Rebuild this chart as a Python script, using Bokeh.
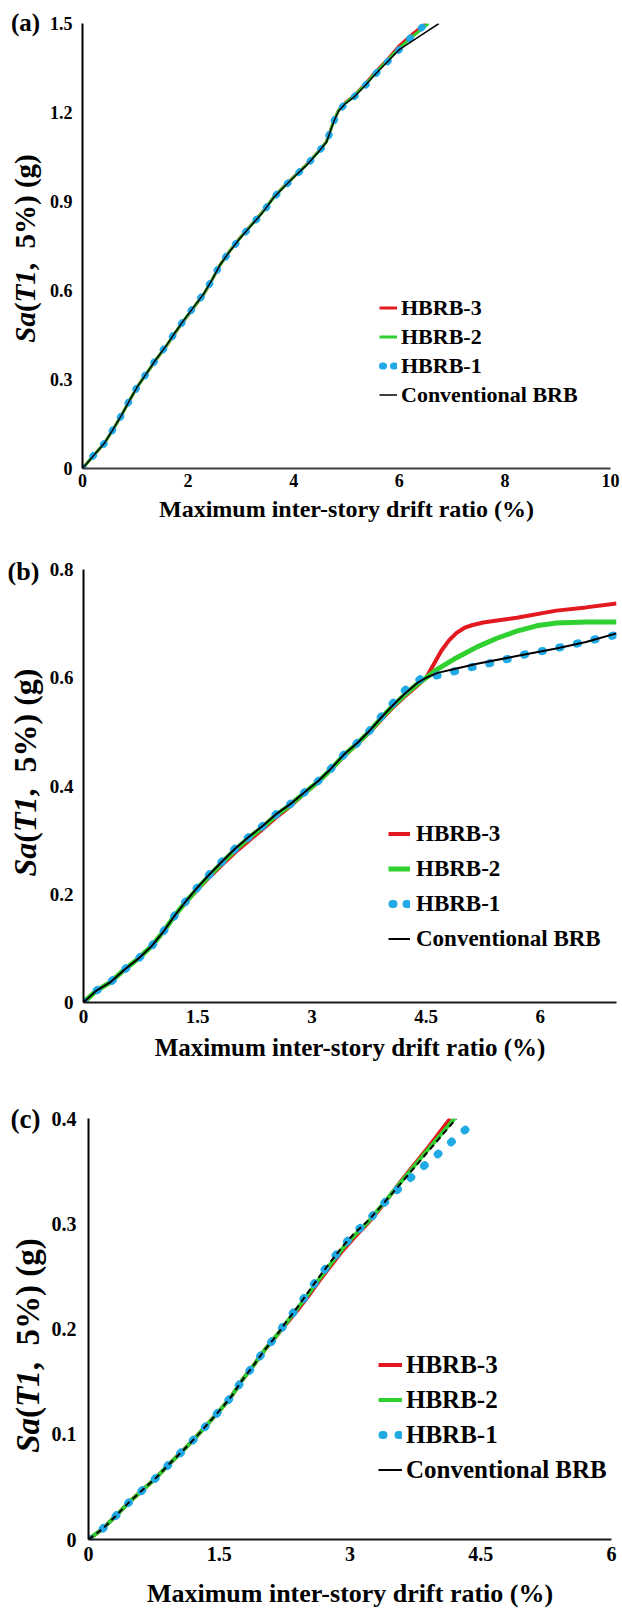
import math
from bokeh.plotting import figure
from bokeh.layouts import column, row
from bokeh.models import Range1d, FixedTicker, Label, Legend, LegendItem, NumeralTickFormatter
from bokeh.embed import file_html
from bokeh.resources import INLINE

FONT = "Liberation Serif"
RED = "#e3191f"
GREEN = "#2fd02f"
BLUE = "#21a9e6"
BLACK = "#000000"

SERIES = ["HBRB-3", "HBRB-2", "HBRB-1", "Conventional BRB"]
X_TITLE = "Maximum inter-story drift ratio (%)"
PANEL_TAGS = ["(a)", "(b)", "(c)"]

# ---------------- Panel (a) ----------------
a_x_ticks = [0, 2, 4, 6, 8, 10]
a_x_labels = ["0", "2", "4", "6", "8", "10"]
a_y_ticks = [0, 0.3, 0.6, 0.9, 1.2, 1.5]
a_y_labels = ["0", "0.3", "0.6", "0.9", "1.2", "1.5"]

a_conv_x = [0, 0.21, 0.41, 0.59, 0.74, 0.89, 1.04, 1.21, 1.40, 1.59, 1.76, 1.94, 2.13, 2.30, 2.45, 2.60,
            2.78, 2.98, 3.20, 3.42, 3.63, 3.82, 4.05, 4.23, 4.46, 4.62, 4.70, 4.76, 4.85, 4.98, 5.13, 5.35,
            5.55, 5.80, 6.00, 6.30, 6.75]
a_conv_y = [0, 0.044, 0.084, 0.135, 0.180, 0.229, 0.276, 0.320, 0.370, 0.415, 0.460, 0.505, 0.550, 0.590,
            0.635, 0.685, 0.730, 0.775, 0.820, 0.865, 0.915, 0.950, 0.990, 1.020, 1.065, 1.100, 1.140, 1.170,
            1.205, 1.230, 1.250, 1.290, 1.330, 1.375, 1.412, 1.447, 1.500]
a_h3_x = [0, 0.21, 0.41, 0.59, 0.74, 0.89, 1.04, 1.21, 1.40, 1.59, 1.76, 1.94, 2.13, 2.30, 2.45, 2.60,
          2.78, 2.98, 3.20, 3.42, 3.63, 3.82, 4.05, 4.23, 4.46, 4.62, 4.70, 4.76, 4.85, 4.98, 5.13, 5.35,
          5.55, 5.80, 5.98, 6.25, 6.50]
a_h3_y = [0, 0.044, 0.084, 0.135, 0.180, 0.229, 0.276, 0.320, 0.368, 0.413, 0.458, 0.503, 0.548, 0.588,
          0.634, 0.685, 0.731, 0.777, 0.822, 0.867, 0.917, 0.952, 0.992, 1.022, 1.067, 1.102, 1.142, 1.173,
          1.208, 1.234, 1.255, 1.296, 1.337, 1.384, 1.422, 1.465, 1.500]
a_h2_x = [0, 0.21, 0.41, 0.59, 0.74, 0.89, 1.04, 1.21, 1.40, 1.59, 1.76, 1.94, 2.13, 2.30, 2.45, 2.60,
          2.78, 2.98, 3.20, 3.42, 3.63, 3.82, 4.05, 4.23, 4.46, 4.62, 4.70, 4.76, 4.85, 4.98, 5.13, 5.35,
          5.55, 5.80, 6.00, 6.28, 6.55]
a_h2_y = [0, 0.044, 0.084, 0.135, 0.180, 0.229, 0.276, 0.320, 0.369, 0.414, 0.459, 0.504, 0.549, 0.589,
          0.635, 0.685, 0.731, 0.776, 0.821, 0.866, 0.916, 0.951, 0.991, 1.021, 1.066, 1.101, 1.141, 1.172,
          1.207, 1.232, 1.253, 1.293, 1.334, 1.380, 1.418, 1.460, 1.500]
a_h1_x = [0, 0.21, 0.41, 0.59, 0.74, 0.89, 1.04, 1.21, 1.40, 1.59, 1.76, 1.94, 2.13, 2.30, 2.45, 2.60,
          2.78, 2.98, 3.20, 3.42, 3.63, 3.82, 4.05, 4.23, 4.46, 4.62, 4.70, 4.76, 4.85, 4.98, 5.13, 5.35,
          5.55, 5.80, 6.00, 6.20, 6.45]
a_h1_y = [0, 0.044, 0.084, 0.135, 0.180, 0.229, 0.276, 0.320, 0.370, 0.415, 0.460, 0.505, 0.550, 0.590,
          0.635, 0.685, 0.730, 0.775, 0.820, 0.865, 0.915, 0.950, 0.990, 1.020, 1.065, 1.100, 1.140, 1.170,
          1.205, 1.230, 1.250, 1.290, 1.330, 1.375, 1.412, 1.450, 1.490]

# ---------------- Panel (b) ----------------
b_x_ticks = [0, 1.5, 3, 4.5, 6]
b_x_labels = ["0", "1.5", "3", "4.5", "6"]
b_y_ticks = [0, 0.2, 0.4, 0.6, 0.8]
b_y_labels = ["0", "0.2", "0.4", "0.6", "0.8"]

b_conv_x = [0, 0.17, 0.35, 0.54, 0.72, 0.90, 1.06, 1.20, 1.35, 1.50, 1.65, 1.81, 1.99, 2.18, 2.36, 2.54,
            2.72, 2.90, 3.09, 3.25, 3.42, 3.60, 3.77, 3.92, 4.07, 4.23, 4.38, 4.50, 4.65, 4.90, 5.17, 5.69,
            6.21, 6.60, 7.00]
b_conv_y = [0, 0.022, 0.037, 0.061, 0.081, 0.105, 0.133, 0.161, 0.188, 0.213, 0.236, 0.259, 0.284, 0.307,
            0.327, 0.349, 0.367, 0.388, 0.410, 0.432, 0.458, 0.480, 0.504, 0.528, 0.550, 0.572, 0.590, 0.600,
            0.609, 0.617, 0.626, 0.640, 0.654, 0.666, 0.682]
b_h3_x = [0, 0.17, 0.35, 0.54, 0.72, 0.90, 1.06, 1.20, 1.35, 1.50, 1.65, 1.81, 1.99, 2.18, 2.36, 2.54,
          2.72, 2.90, 3.09, 3.25, 3.42, 3.60, 3.77, 3.92, 4.07, 4.23, 4.38, 4.50, 4.60, 4.70, 4.80, 4.90,
          5.00, 5.10, 5.25, 5.50, 5.69, 6.21, 6.60, 7.00]
b_h3_y = [0, 0.022, 0.037, 0.061, 0.081, 0.105, 0.133, 0.161, 0.186, 0.209, 0.231, 0.253, 0.277, 0.300,
          0.321, 0.343, 0.363, 0.386, 0.408, 0.430, 0.455, 0.478, 0.501, 0.524, 0.546, 0.567, 0.585, 0.600,
          0.625, 0.650, 0.669, 0.683, 0.692, 0.697, 0.702, 0.707, 0.711, 0.724, 0.730, 0.737]
b_h2_x = [0, 0.17, 0.35, 0.54, 0.72, 0.90, 1.06, 1.20, 1.35, 1.50, 1.65, 1.81, 1.99, 2.18, 2.36, 2.54,
          2.72, 2.90, 3.09, 3.25, 3.42, 3.60, 3.77, 3.92, 4.07, 4.23, 4.38, 4.50, 4.65, 4.90, 5.17, 5.43,
          5.69, 5.95, 6.21, 6.60, 7.00]
b_h2_y = [0, 0.022, 0.037, 0.061, 0.081, 0.105, 0.133, 0.161, 0.187, 0.211, 0.234, 0.257, 0.282, 0.305,
          0.325, 0.347, 0.366, 0.387, 0.409, 0.431, 0.457, 0.479, 0.503, 0.527, 0.549, 0.570, 0.588, 0.600,
          0.616, 0.637, 0.657, 0.673, 0.686, 0.696, 0.701, 0.703, 0.703]
b_h1_x = [0, 0.17, 0.35, 0.54, 0.72, 0.90, 1.06, 1.20, 1.35, 1.50, 1.65, 1.81, 1.99, 2.18, 2.36, 2.54,
          2.72, 2.90, 3.09, 3.25, 3.42, 3.60, 3.77, 3.92, 4.07, 4.23, 4.45, 4.67, 4.90, 5.14, 5.37, 5.61,
          5.82, 6.05, 6.29, 6.51, 6.72, 6.96]
b_h1_y = [0, 0.022, 0.037, 0.061, 0.081, 0.105, 0.133, 0.161, 0.188, 0.213, 0.236, 0.259, 0.284, 0.307,
          0.327, 0.349, 0.367, 0.388, 0.410, 0.432, 0.458, 0.480, 0.504, 0.530, 0.554, 0.578, 0.600, 0.605,
          0.613, 0.621, 0.628, 0.636, 0.644, 0.650, 0.657, 0.664, 0.671, 0.678]

# ---------------- Panel (c) ----------------
c_x_ticks = [0, 1.5, 3, 4.5, 6]
c_x_labels = ["0", "1.5", "3", "4.5", "6"]
c_y_ticks = [0, 0.1, 0.2, 0.3, 0.4]
c_y_labels = ["0", "0.1", "0.2", "0.3", "0.4"]

c_conv_x = [0, 0.16, 0.32, 0.46, 0.62, 0.78, 0.93, 1.09, 1.23, 1.37, 1.52, 1.64, 1.76, 1.89, 2.02, 2.15,
            2.27, 2.40, 2.52, 2.65, 2.77, 2.91, 3.05, 3.21, 3.36, 3.60, 3.90, 4.22]
c_conv_y = [0, 0.010, 0.023, 0.035, 0.047, 0.059, 0.072, 0.085, 0.097, 0.110, 0.124, 0.136, 0.151, 0.165,
            0.180, 0.193, 0.207, 0.221, 0.235, 0.250, 0.263, 0.278, 0.291, 0.303, 0.317, 0.340, 0.369, 0.400]
c_h3_x = [0, 0.16, 0.32, 0.46, 0.62, 0.78, 0.93, 1.09, 1.23, 1.37, 1.52, 1.64, 1.76, 1.89, 2.02, 2.15,
          2.27, 2.40, 2.52, 2.65, 2.77, 2.91, 3.05, 3.21, 3.36, 3.60, 3.90, 4.15]
c_h3_y = [0, 0.010, 0.023, 0.035, 0.047, 0.059, 0.072, 0.085, 0.097, 0.110, 0.124, 0.136, 0.151, 0.165,
          0.180, 0.193, 0.205, 0.218, 0.231, 0.246, 0.259, 0.274, 0.287, 0.301, 0.316, 0.342, 0.373, 0.400]
c_h2_x = [0, 0.16, 0.32, 0.46, 0.62, 0.78, 0.93, 1.09, 1.23, 1.37, 1.52, 1.64, 1.76, 1.89, 2.02, 2.15,
          2.27, 2.40, 2.52, 2.65, 2.77, 2.91, 3.05, 3.21, 3.36, 3.60, 3.90, 4.20]
c_h2_y = [0, 0.010, 0.023, 0.035, 0.047, 0.059, 0.072, 0.085, 0.097, 0.110, 0.124, 0.136, 0.151, 0.165,
          0.180, 0.193, 0.206, 0.220, 0.233, 0.248, 0.261, 0.276, 0.289, 0.302, 0.317, 0.341, 0.371, 0.400]
c_h1_x = [0, 0.16, 0.32, 0.46, 0.62, 0.78, 0.93, 1.09, 1.23, 1.37, 1.52, 1.64, 1.76, 1.89, 2.02, 2.15,
          2.27, 2.40, 2.52, 2.65, 2.77, 2.91, 3.05, 3.21, 3.36, 3.50, 3.66, 3.82, 3.98, 4.14, 4.29, 4.45]
c_h1_y = [0, 0.010, 0.023, 0.035, 0.047, 0.059, 0.072, 0.085, 0.097, 0.110, 0.124, 0.136, 0.151, 0.165,
          0.180, 0.193, 0.207, 0.221, 0.235, 0.250, 0.263, 0.278, 0.291, 0.303, 0.317, 0.329, 0.341, 0.353,
          0.364, 0.376, 0.387, 0.398]

TOTAL_W = 622


def no_align(fig):
    try:
        fig.frame_align = False
    except Exception:
        pass


def make_side(cfg):
    """Narrow strip holding the panel tag and the mixed-style y-axis title."""
    H = cfg["height"]
    SW = cfg["side_w"]
    s = figure(width=SW, height=H, output_backend="svg", toolbar_location=None, title=None,
               x_range=Range1d(0, SW), y_range=Range1d(0, H),
               x_axis_location=None, y_axis_location=None, min_border=0)
    no_align(s)
    s.outline_line_color = None
    s.background_fill_color = "white"
    s.border_fill_color = "white"
    s.xgrid.visible = False
    s.ygrid.visible = False

    tx, ty = cfg["tag_xy"]
    s.add_layout(Label(x=tx, y=H - ty, text=cfg["tag"], text_align="center", text_baseline="middle",
                       text_font=FONT, text_font_style="bold", text_font_size=f"{cfg['tag_fs']}px",
                       text_color="black"))

    fs = cfg["ylab_fs"]
    pieces = [("Sa", "bold italic", 1.056, 0.0), ("(", "bold", 0.333, 0.0), ("T1", "bold italic", 1.111, 0.0),
              (",", "bold", 0.25, 0.5), ("5%) (g)", "bold", 3.249, 0.0)]
    total = sum(w + g for _, _, w, g in pieces)
    cur = cfg["ylab_yc"] + total * fs / 2
    for text, style, w, g in pieces:
        s.add_layout(Label(x=cfg["ylab_xc"], y=H - cur, text=text, angle=math.pi / 2,
                           text_align="left", text_baseline="middle", text_font=FONT,
                           text_font_style=style, text_font_size=f"{fs}px", text_color="black"))
        cur -= (w + g) * fs
    return s


def make_panel(cfg):
    SW = cfg["side_w"]
    W = TOTAL_W - SW
    p = figure(width=W, height=cfg["height"], output_backend="svg", toolbar_location=None, title=None,
               x_range=Range1d(0, cfg["xmax"]), y_range=Range1d(0, cfg["ymax"]),
               min_border_left=cfg["left"] - SW, min_border_right=cfg["right"],
               min_border_top=cfg["top"], min_border_bottom=cfg["bottom"])
    no_align(p)
    p.outline_line_color = None
    p.xgrid.visible = False
    p.ygrid.visible = False
    p.background_fill_color = "white"
    p.border_fill_color = "white"

    for ax in (p.xaxis[0], p.yaxis[0]):
        ax.major_tick_line_color = None
        ax.minor_tick_line_color = None
        ax.major_tick_out = 0
        ax.major_tick_in = 0
        ax.major_label_text_font = FONT
        ax.major_label_text_font_style = "bold"
        ax.major_label_text_font_size = f"{cfg['tick_fs']}px"
        ax.major_label_text_color = "black"
        ax.formatter = NumeralTickFormatter(format="0.[0]")

    xa = p.xaxis[0]
    xa.ticker = FixedTicker(ticks=cfg["xticks"])
    xa.major_label_overrides = dict(zip(cfg["xticks"], cfg["xlabels"]))
    xa.axis_line_color = cfg["xaxis_color"]
    xa.axis_line_width = 2
    xa.major_label_standoff = cfg["xstand"]
    xa.axis_label = X_TITLE
    xa.axis_label_text_font = FONT
    xa.axis_label_text_font_style = "bold"
    xa.axis_label_text_font_size = f"{cfg['xlab_fs']}px"
    xa.axis_label_text_color = "black"
    xa.axis_label_standoff = cfg["xlab_stand"]

    ya = p.yaxis[0]
    ya.ticker = FixedTicker(ticks=cfg["yticks"])
    ya.major_label_overrides = dict(zip(cfg["yticks"], cfg["ylabels"]))
    ya.axis_line_color = "black"
    ya.axis_line_width = 2
    ya.major_label_standoff = cfg["ystand"]

    s = cfg["series"]
    r3 = p.line(s[0][0], s[0][1], line_color=RED, line_width=cfg["w3"])
    r2 = p.line(s[1][0], s[1][1], line_color=GREEN, line_width=cfg["w2"])
    p.line(s[2][0], s[2][1], line_color=BLUE, line_width=cfg["wdot"], line_dash=cfg["dotdash"],
           line_cap="round")
    r0 = p.line(s[3][0], s[3][1], line_color=BLACK, line_width=cfg["w0"], line_dash=cfg["convdash"])

    # single-point proxies: draw nothing inside the frame, only give legend samples
    leg1 = p.line(x=s[2][0][:1], y=s[2][1][:1], line_color=BLUE, line_width=cfg["wdot"],
                  line_dash=cfg["leg_dotdash"], line_dash_offset=cfg["leg_dotoff"], line_cap="round")
    leg0 = r0
    if cfg["convdash"] != "solid":
        leg0 = p.line(x=s[3][0][:1], y=s[3][1][:1], line_color=BLACK, line_width=cfg["w0"])

    legend = Legend(items=[LegendItem(label=SERIES[0], renderers=[r3]),
                           LegendItem(label=SERIES[1], renderers=[r2]),
                           LegendItem(label=SERIES[2], renderers=[leg1]),
                           LegendItem(label=SERIES[3], renderers=[leg0])],
                    location=cfg["leg_loc"], orientation="vertical",
                    glyph_width=cfg["leg_gw"], glyph_height=cfg["leg_pitch"], label_height=cfg["leg_pitch"],
                    spacing=0, padding=0, margin=0, label_standoff=cfg["leg_stand"],
                    border_line_color=None, background_fill_alpha=0,
                    label_text_font=FONT, label_text_font_style="bold",
                    label_text_font_size=f"{cfg['leg_fs']}px", label_text_color="black")
    p.add_layout(legend)
    return p


cfg_a = dict(height=540, side_w=46, left=82, right=12, top=23, bottom=72, xmax=10, ymax=1.5,
             xticks=a_x_ticks, xlabels=a_x_labels, yticks=a_y_ticks, ylabels=a_y_labels,
             xaxis_color="#404040", tick_fs=18, xstand=5, ystand=10, xlab_fs=24, xlab_stand=6,
             series=[(a_h3_x, a_h3_y), (a_h2_x, a_h2_y), (a_h1_x, a_h1_y), (a_conv_x, a_conv_y)],
             w3=3, w2=3, wdot=7, dotdash="1 15", w0=1.5, convdash="solid",
             leg_dotdash="1 10", leg_dotoff=8,
             leg_loc=(297, 59), leg_gw=18, leg_pitch=29, leg_stand=4, leg_fs=22,
             tag=PANEL_TAGS[0], tag_xy=(25, 22), tag_fs=25, ylab_fs=29, ylab_xc=24, ylab_yc=248)

cfg_b = dict(height=530, side_w=46, left=82, right=6, top=29, bottom=68, xmax=7, ymax=0.8,
             xticks=b_x_ticks, xlabels=b_x_labels, yticks=b_y_ticks, ylabels=b_y_labels,
             xaxis_color="#1a1a1a", tick_fs=19, xstand=7, ystand=10, xlab_fs=25, xlab_stand=8,
             series=[(b_h3_x, b_h3_y), (b_h2_x, b_h2_y), (b_h1_x, b_h1_y), (b_conv_x, b_conv_y)],
             w3=4, w2=5, wdot=8, dotdash="1 17", w0=2, convdash="solid",
             leg_dotdash="1 13", leg_dotoff=10,
             leg_loc=(305, 46), leg_gw=22, leg_pitch=35, leg_stand=6, leg_fs=23,
             tag=PANEL_TAGS[1], tag_xy=(23, 31), tag_fs=26, ylab_fs=32, ylab_xc=24, ylab_yc=232)

cfg_c = dict(height=540, side_w=48, left=87, right=11, top=48, bottom=62, xmax=6, ymax=0.4,
             xticks=c_x_ticks, xlabels=c_x_labels, yticks=c_y_ticks, ylabels=c_y_labels,
             xaxis_color="#1a1a1a", tick_fs=20, xstand=7, ystand=12, xlab_fs=26, xlab_stand=15,
             series=[(c_h3_x, c_h3_y), (c_h2_x, c_h2_y), (c_h1_x, c_h1_y), (c_conv_x, c_conv_y)],
             w3=4, w2=4, wdot=8, dotdash="1 17", w0=2, convdash="6 4",
             leg_dotdash="1 15", leg_dotoff=12,
             leg_loc=(290, 52), leg_gw=24, leg_pitch=35, leg_stand=4, leg_fs=25,
             tag=PANEL_TAGS[2], tag_xy=(25, 48), tag_fs=27, ylab_fs=33, ylab_xc=27, ylab_yc=275)

rows = []
for cfg in (cfg_a, cfg_b, cfg_c):
    rows.append(row(make_side(cfg), make_panel(cfg), spacing=0))

layout = column(*rows, spacing=0)
open("out.html", "w").write(file_html(layout, INLINE))
